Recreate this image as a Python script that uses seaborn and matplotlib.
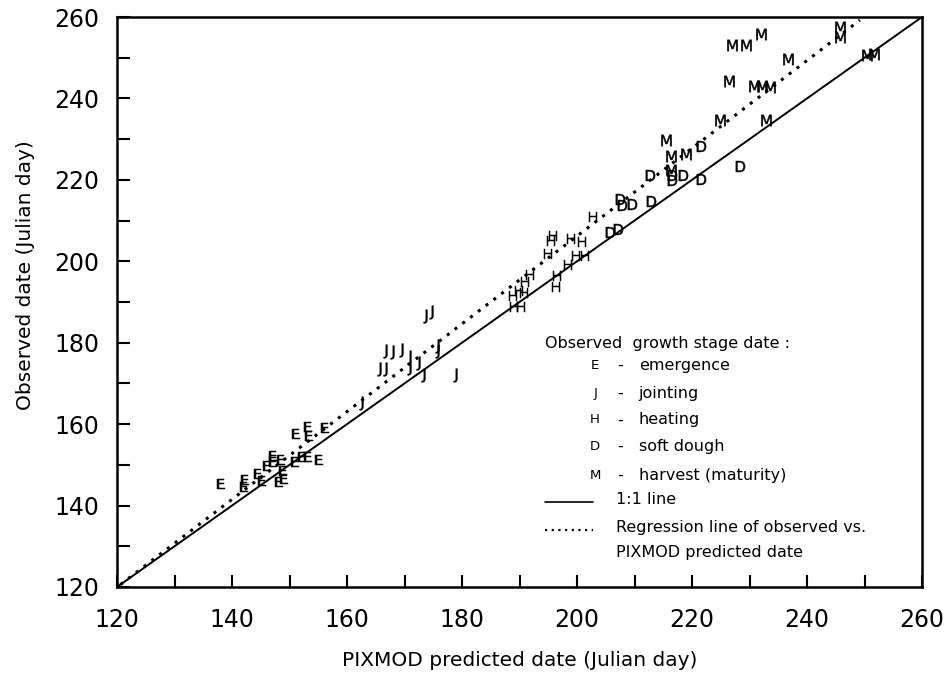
import numpy as np
import pandas as pd
import matplotlib
matplotlib.use("Agg")
import matplotlib.pyplot as plt
import seaborn as sns
from matplotlib.ticker import MultipleLocator

# PIXMOD predicted vs observed growth-stage dates (Julian day)
e_pred = [138.1, 142.3, 142.1, 144.5, 145.2, 146.1, 147.2, 147.2, 148.6, 148.9,
          148.1, 149.0, 151.2, 153.3, 153.4, 156.1, 151.0, 152.1, 153.2, 155.1]
e_obs = [145.2, 146.2, 144.5, 147.7, 146.1, 149.8, 152.1, 150.6, 151.3, 148.6,
         145.7, 146.5, 157.6, 159.3, 157.2, 159.1, 150.8, 151.9, 151.9, 151.3]

j_pred = [173.5, 174.6, 166.6, 167.8, 169.4, 170.7, 172.4, 175.6, 175.6, 165.6,
          166.6, 170.7, 173.3, 178.8, 162.4]
j_obs = [186.6, 187.5, 178.0, 177.8, 178.2, 176.6, 175.0, 179.1, 177.9, 173.5,
         173.5, 173.8, 172.0, 172.0, 165.1]

h_pred = [189.1, 190.2, 188.8, 189.9, 190.7, 191.0, 191.9, 194.9, 195.8, 195.5,
          198.9, 200.9, 199.8, 201.4, 198.5, 196.5, 196.4, 202.8]
h_obs = [188.8, 188.8, 191.5, 192.7, 192.3, 194.8, 196.7, 201.8, 206.3, 205.1,
         205.5, 204.7, 201.4, 201.4, 199.2, 196.3, 193.8, 210.9]

d_pred = [205.7, 207.2, 207.4, 207.8, 209.6, 212.8, 212.7, 216.5, 218.5, 216.5,
          221.6, 221.5, 228.4]
d_obs = [207.2, 208.0, 215.4, 213.8, 214.0, 214.9, 221.2, 221.2, 221.2, 220.0,
         220.2, 228.4, 223.4]

m_pred = [215.5, 216.3, 219.0, 216.4, 224.8, 232.8, 227.0, 229.4, 232.0, 245.7,
          245.7, 236.7, 226.5, 230.7, 232.1, 233.6, 250.4, 251.6]
m_obs = [229.9, 225.9, 226.4, 222.5, 234.8, 234.7, 253.1, 253.1, 255.8, 257.5,
         255.0, 249.7, 244.3, 243.1, 243.1, 242.7, 250.6, 251.0]

stage_codes = ["E", "J", "H", "D", "M"]
stage_names = ["emergence", "jointing", "heating", "soft dough", "harvest (maturity)"]

# Regression of observed on predicted date
reg_intercept = -9.4
reg_slope = 1.078
reg_x = np.array([120.6, 249.2])
reg_y = reg_intercept + reg_slope * reg_x

one_to_one = [120, 260]
axis_ticks = [120, 140, 160, 180, 200, 220, 240, 260]

frames = []
for code, px, ob in zip(stage_codes,
                        [e_pred, j_pred, h_pred, d_pred, m_pred],
                        [e_obs, j_obs, h_obs, d_obs, m_obs]):
    frames.append(pd.DataFrame({"predicted": px, "observed": ob, "stage": code}))
df = pd.concat(frames, ignore_index=True)

sns.set_style("ticks")
plt.rcParams["font.family"] = ["DejaVu Sans"]
plt.rcParams["mathtext.fontset"] = "dejavusans"
for key in ["text.color", "axes.labelcolor", "xtick.color", "ytick.color",
            "axes.edgecolor"]:
    plt.rcParams[key] = "black"

fig = plt.figure(figsize=(9.48, 6.86), dpi=100)
ax = fig.add_axes([117 / 948, 99 / 686, 805 / 948, 570 / 686])

# 1:1 line and regression line
sns.lineplot(x=one_to_one, y=one_to_one, ax=ax, color="black", linewidth=1.4)
sns.lineplot(x=reg_x, y=reg_y, ax=ax, color="black", linewidth=2.2,
             linestyle=(0, (1.0, 2.2)))

# Growth-stage letters as markers ("J" has a descender, so it gets more room)
marker_size = {"E": 62, "J": 95, "H": 62, "D": 62, "M": 66}
for code in stage_codes:
    sub = df[df["stage"] == code]
    sns.scatterplot(data=sub, x="predicted", y="observed",
                    marker=r"$\mathsf{%s}$" % code, color="black",
                    s=marker_size[code], linewidth=0.35, edgecolor="black",
                    legend=False, ax=ax)

ax.set_xlim(120, 260)
ax.set_ylim(120, 260)
ax.set_xticks(axis_ticks)
ax.set_yticks(axis_ticks)
ax.xaxis.set_minor_locator(MultipleLocator(10))
ax.yaxis.set_minor_locator(MultipleLocator(10))
ax.tick_params(axis="both", which="both", direction="in", length=9, width=1.5,
               top=False, right=False, colors="black")
ax.tick_params(axis="x", which="major", labelsize=17, pad=15)
ax.tick_params(axis="y", which="major", labelsize=17, pad=13)
for sp in ax.spines.values():
    sp.set_visible(True)
    sp.set_linewidth(1.8)
    sp.set_color("black")

ax.set_xlabel("PIXMOD predicted date (Julian day)", fontsize=14.5, color="black")
ax.set_ylabel("Observed date (Julian day)", fontsize=14.5, color="black")
ax.xaxis.set_label_coords(0.5, -0.112)
ax.yaxis.set_label_coords(-0.102, 0.547)

# Key written inside the plotting area
tkw = dict(transform=ax.transAxes, fontsize=11.5, va="center", color="black")
ax.text(0.532, 0.428, "Observed  growth stage date :", ha="left", **tkw)
rows_y = [0.389, 0.339, 0.293, 0.246, 0.196]
for code, name, yy in zip(stage_codes, stage_names, rows_y):
    ax.text(0.594, yy, code, ha="center", transform=ax.transAxes, fontsize=9.5,
            va="center", color="black")
    ax.text(0.625, yy, "-", ha="center", **tkw)
    ax.text(0.648, yy, name, ha="left", **tkw)

ax.plot([0.532, 0.591], [0.150, 0.150], transform=ax.transAxes,
        color="black", linewidth=1.2)
ax.text(0.620, 0.154, "1:1 line", ha="left", **tkw)
ax.plot([0.532, 0.591], [0.100, 0.100], transform=ax.transAxes,
        color="black", linewidth=1.6, linestyle=(0, (1.0, 2.0)))
ax.text(0.620, 0.104, "Regression line of observed vs.", ha="left", **tkw)
ax.text(0.620, 0.060, "PIXMOD predicted date", ha="left", **tkw)

fig.savefig("out.png", dpi=100, facecolor="white")
